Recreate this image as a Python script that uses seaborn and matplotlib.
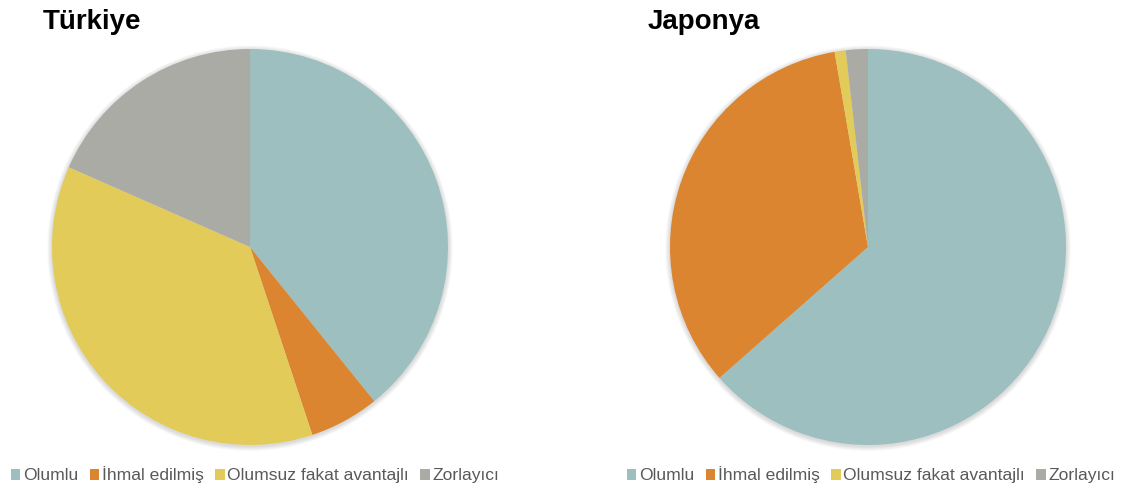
import matplotlib
matplotlib.use("Agg")
import matplotlib.pyplot as plt
from matplotlib.patches import Patch, Circle
import seaborn as sns

sns.set_theme(style="white")
plt.rcParams['font.family'] = ['Liberation Sans', 'DejaVu Sans']

categories = ["Olumlu", "İhmal edilmiş", "Olumsuz fakat avantajlı", "Zorlayıcı"]
turkiye = [39.2, 5.7, 36.7, 18.4]
japonya = [63.5, 33.8, 0.9, 1.8]
titles = ["Türkiye", "Japonya"]
colors = ["#9EBFBF", "#DB8530", "#E3CB5A", "#ABABA6"]

W, H = 1125, 488
fig = plt.figure(figsize=(W / 100, H / 100), dpi=100)
fig.patch.set_facecolor("white")

centers = [(250, 247), (868, 247)]
title_x = [43, 648]
legend_x = [255, 871]
R = 198
for (cx, cy), vals, title, tx, lx in zip(centers, [turkiye, japonya], titles, title_x, legend_x):
    ax = fig.add_axes([(cx - R) / W, (H - cy - R) / H, 2 * R / W, 2 * R / H])
    ax.set_xlim(-1, 1)
    ax.set_ylim(-1, 1)
    ax.set_aspect("equal")
    ax.axis("off")
    # soft shadow
    for k in range(6):
        ax.add_patch(Circle((0, -0.006), 1.0 + 0.004 * (k + 1), color="black",
                            alpha=0.022, lw=0, zorder=0, clip_on=False))
    ax.pie(vals, colors=colors, startangle=90, counterclock=False,
           radius=1.0, wedgeprops=dict(linewidth=0))
    ax.set_xlim(-1, 1)
    ax.set_ylim(-1, 1)

    fig.text(tx / W, 1 - 22 / H, title, fontsize=20, fontweight="bold",
             color="black", va="center", ha="left")

    handles = [Patch(facecolor=c, edgecolor="none", label=l) for c, l in zip(colors, categories)]
    fig.legend(handles=handles, loc="center", bbox_to_anchor=(lx / W, 1 - 475 / H),
               ncol=4, frameon=False, fontsize=12.6, handlelength=0.55, handleheight=0.55,
               handletextpad=0.15, columnspacing=0.65, labelcolor="#595959")

fig.savefig("out.png", dpi=100, facecolor="white")
